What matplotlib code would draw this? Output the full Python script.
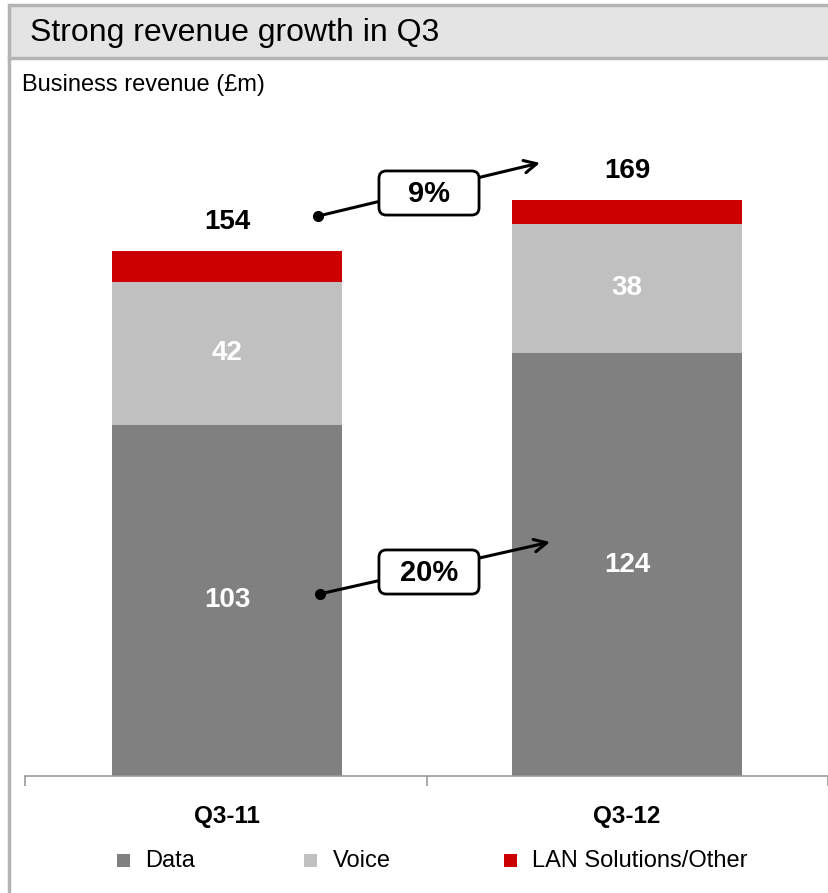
import matplotlib
matplotlib.use("Agg")
import matplotlib.pyplot as plt
from matplotlib.patches import Rectangle, FancyBboxPatch
from matplotlib.lines import Line2D
import numpy as np

plt.rcParams['font.family'] = ['Liberation Sans', 'DejaVu Sans']

categories = ["Q3-11", "Q3-12"]
data_vals = [103, 124]
voice_vals = [42, 38]
lan_vals = [9, 7]
totals = [154, 169]
growth_labels = ["9%", "20%"]
series_names = ["Data", "Voice", "LAN Solutions/Other"]
colors = ["#808080", "#c0c0c0", "#cc0000"]

W, H = 829, 893
fig = plt.figure(figsize=(W / 100, H / 100), dpi=100)

def fx(px):
    return px / W

def fy(py):
    return 1 - py / H

# Title box
fig.patches.append(Rectangle((fx(9), fy(58)), 1.0, 53 / H, transform=fig.transFigure,
                             facecolor="#e4e4e4", edgecolor="#b4b4b4", linewidth=2.5))
fig.text(fx(30), fy(33), "Strong revenue growth in Q3", fontsize=23, va="center", ha="left")
# Left panel border
fig.lines.append(Line2D([fx(9.5), fx(9.5)], [0, fy(58)], transform=fig.transFigure,
                        color="#b4b4b4", linewidth=2.5))
fig.text(fx(22), fy(85), "Business revenue (£m)", fontsize=17, va="center", ha="left")

ppu = 3.41
base = 776
ytop = 190
ax = fig.add_axes([fx(25), fy(base), 803 / W, ytop * ppu / H])
x = np.arange(len(categories))
bw = 0.575
ax.bar(x, data_vals, bw, color=colors[0], label=series_names[0])
ax.bar(x, voice_vals, bw, bottom=data_vals, color=colors[1], label=series_names[1])
bottoms3 = [d + v for d, v in zip(data_vals, voice_vals)]
ax.bar(x, lan_vals, bw, bottom=bottoms3, color=colors[2], label=series_names[2])

ax.set_xlim(-0.505, 1.5025)
ax.set_ylim(0, ytop)
for s in ["top", "right", "left"]:
    ax.spines[s].set_visible(False)
ax.spines["bottom"].set_color("#999999")
ax.spines["bottom"].set_linewidth(1.2)
ax.set_yticks([])
ax.set_xticks([-0.505, 0.5, 1.5025])
ax.set_xticklabels([])
ax.tick_params(axis="x", direction="out", length=7, color="#999999", width=1.2)
for xi, c in zip(x, categories):
    ax.text(xi, -12, c, ha="center", va="center", fontsize=17.5, fontweight="bold")

for xi, d, v, t in zip(x, data_vals, voice_vals, totals):
    ax.text(xi, d / 2, str(d), ha="center", va="center", color="white", fontsize=20, fontweight="bold")
    ax.text(xi, d + v / 2, str(v), ha="center", va="center", color="white", fontsize=20, fontweight="bold")
    ax.text(xi, t + 8.5, str(t), ha="center", va="center", color="black", fontsize=20, fontweight="bold")

# Growth arrows: (start, end) in data coords, box in pixels (x0, y0, x1, y1)
arrows = [((0.2275, 164.2), (0.7825, 179.8), (379, 171, 479, 215)),
          ((0.2325, 53.4), (0.8075, 68.6), (379, 550, 479, 594))]
for (start, end, box), lab in zip(arrows, growth_labels):
    ax.annotate("", xy=end, xytext=start,
                arrowprops=dict(arrowstyle="->,head_length=0.9,head_width=0.45", lw=2.2, color="black",
                                shrinkA=0, shrinkB=0), annotation_clip=False)
    ax.plot([start[0]], [start[1]], "o", color="black", markersize=7, clip_on=False)
    x0, y0, x1, y1 = box
    r = 7
    fig.patches.append(FancyBboxPatch((fx(x0 + r), fy(y1 - r)), (x1 - x0 - 2 * r) / W, (y1 - y0 - 2 * r) / H,
                                      boxstyle="round,pad=0.0085,rounding_size=0.009",
                                      transform=fig.transFigure, facecolor="white",
                                      edgecolor="black", linewidth=2, zorder=5,
                                      mutation_aspect=W / H))
    fig.text(fx((x0 + x1) / 2), fy((y0 + y1) / 2 + 1), lab, ha="center", va="center", fontsize=21,
             fontweight="bold", zorder=6)

# Legend
leg_sq = [117, 304, 504]
leg_tx = [145, 333, 532]
ly = 860
for sx, tx, c, n in zip(leg_sq, leg_tx, colors, series_names):
    fig.patches.append(Rectangle((fx(sx), fy(ly + 6.5)), 13 / W, 13 / H, transform=fig.transFigure,
                                 facecolor=c, edgecolor="none"))
    fig.text(fx(tx), fy(ly + 1), n, ha="left", va="center", fontsize=17)

fig.savefig("out.png", dpi=100)
